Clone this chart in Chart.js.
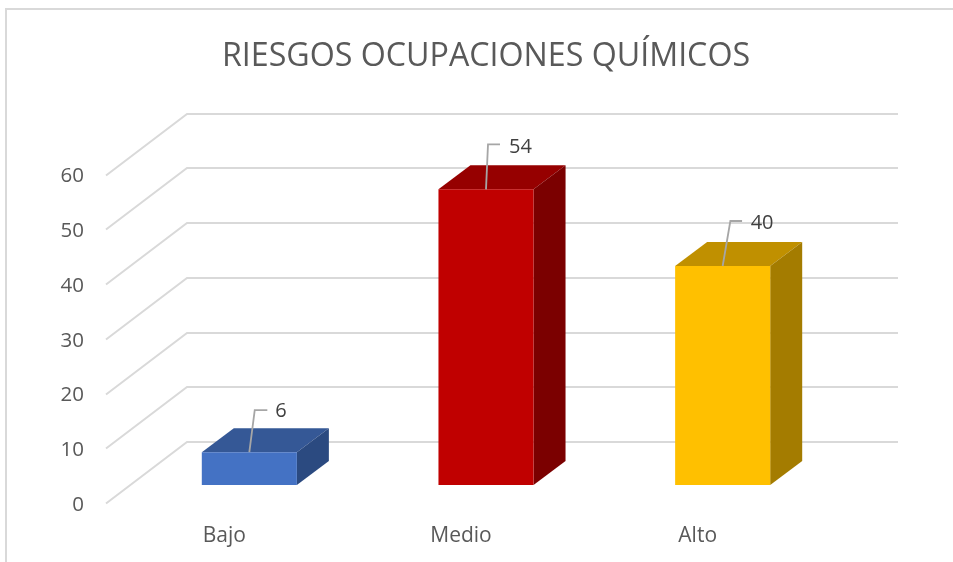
<!DOCTYPE html>
<html><head><meta charset="utf-8">
<style>
html,body{margin:0;padding:0;background:#fff;overflow:hidden}
#frame{position:absolute;left:5px;top:8px;width:960px;height:570px;border:2px solid #d9d9d9;box-sizing:border-box}
canvas{position:absolute;left:0;top:0}
</style>
<script src="https://cdn.jsdelivr.net/npm/chart.js@4"></script>
</head><body>
<div id="frame"></div>
<canvas id="c" width="953" height="562"></canvas>
<script>
const TITLE = "RIESGOS OCUPACIONES QUÍMICOS";
const categories = ["Bajo", "Medio", "Alto"];
const values = [6, 54, 40];
const frontColors = ["#4472C4", "#C00000", "#FFC000"];
const topColors = ["#355896", "#960000", "#C09000"];
const sideColors = ["#2B4A80", "#7B0000", "#A47C00"];
const gridValues = [0, 10, 20, 30, 40, 50, 60];

const FONT = '"Open Sans", sans-serif';
const PX_PER_UNIT = 5.475;
const BOTTOM = 505, TOP = 113;
const BAR_BASE = 485;
const barDepth = {dx: 32, dy: 24};
const wall = {dy: -43, leftDx: 56, rightX: 898, frontDx: -81, frontDy: 61.5};
// leader-line and label offsets relative to each bar's top centre
const leaderBendDx = [5.4, 2, 7.7];
const leaderEndDx = [18, 14, 19.4];
const leaderRise = [42, 45, 45];
const labelDx = [26, 23, 28];
const labelRise = [40.5, 42.5, 42.5];

const depthPlugin = {
  id: 'depth',
  beforeDatasetsDraw(chart) {
    const ctx = chart.ctx, y = chart.scales.y, area = chart.chartArea;
    ctx.save();
    ctx.strokeStyle = '#d9d9d9';
    ctx.lineWidth = 2;
    gridValues.forEach(v => {
      const wy = Math.round(y.getPixelForValue(v) + wall.dy);
      const wx = area.left + wall.leftDx;
      ctx.beginPath();
      ctx.moveTo(wx + wall.frontDx, wy + wall.frontDy);
      ctx.lineTo(wx, wy);
      ctx.lineTo(wall.rightX, wy);
      ctx.stroke();
    });
    chart.getDatasetMeta(0).data.forEach((bar, i) => {
      const l = bar.x - bar.width / 2, r = bar.x + bar.width / 2;
      const {dx, dy} = barDepth;
      ctx.fillStyle = topColors[i];
      ctx.beginPath();
      ctx.moveTo(l, bar.y); ctx.lineTo(l + dx, bar.y - dy);
      ctx.lineTo(r + dx, bar.y - dy); ctx.lineTo(r, bar.y);
      ctx.closePath(); ctx.fill();
      ctx.fillStyle = sideColors[i];
      ctx.beginPath();
      ctx.moveTo(r, bar.y); ctx.lineTo(r + dx, bar.y - dy);
      ctx.lineTo(r + dx, bar.base - dy); ctx.lineTo(r, bar.base);
      ctx.closePath(); ctx.fill();
    });
    ctx.restore();
  },
  afterDatasetsDraw(chart) {
    const ctx = chart.ctx;
    ctx.save();
    chart.getDatasetMeta(0).data.forEach((bar, i) => {
      const ey = bar.y - leaderRise[i];
      ctx.strokeStyle = '#a6a6a6';
      ctx.lineWidth = 1.8;
      ctx.beginPath();
      ctx.moveTo(bar.x, bar.y);
      ctx.lineTo(bar.x + leaderBendDx[i], ey);
      ctx.lineTo(bar.x + leaderEndDx[i], ey);
      ctx.stroke();
      ctx.fillStyle = '#404040';
      ctx.font = '20px ' + FONT;
      ctx.textAlign = 'left';
      ctx.textBaseline = 'middle';
      ctx.fillText(String(values[i]), bar.x + labelDx[i], bar.y - labelRise[i]);
    });
    ctx.restore();
  }
};

new Chart(document.getElementById('c'), {
  type: 'bar',
  data: {
    labels: categories,
    datasets: [{data: values, backgroundColor: frontColors, borderWidth: 0,
      categoryPercentage: 1, barPercentage: 0.4017, yAxisID: 'y'}]
  },
  plugins: [depthPlugin],
  options: {
    responsive: false,
    animation: false,
    devicePixelRatio: 1,
    layout: {padding: {left: 0, right: 112, top: 0, bottom: 0}},
    plugins: {
      legend: {display: false},
      tooltip: {enabled: false},
      title: {display: true, text: TITLE, fullSize: false, color: '#595959',
        font: {family: FONT, size: 32.2, weight: 'normal', lineHeight: 1.2},
        padding: {top: 38, bottom: 36.36}}
    },
    scales: {
      x: {
        grid: {display: false, drawTicks: false}, border: {display: false},
        afterFit(s) { s.height = 562 - BOTTOM; },
        ticks: {color: '#595959', font: {family: FONT, size: 21}, labelOffset: -25, padding: 18, maxRotation: 0}
      },
      y: {
        display: false,
        bounds: 'data',
        min: (BAR_BASE - BOTTOM) / PX_PER_UNIT,
        max: (BAR_BASE - TOP) / PX_PER_UNIT
      },
      yt: {
        position: 'left',
        bounds: 'data',
        min: 0,
        max: (BOTTOM - TOP) / PX_PER_UNIT,
        grid: {display: false, drawTicks: false}, border: {display: false},
        afterFit(s) { s.width = 131; s.paddingTop = 0; s.paddingBottom = 0; },
        ticks: {stepSize: 10, color: '#595959', font: {family: FONT, size: 20.5}, padding: 47,
          callback: v => gridValues.includes(v) ? String(v) : ''}
      }
    }
  }
});
</script>
</body></html>
